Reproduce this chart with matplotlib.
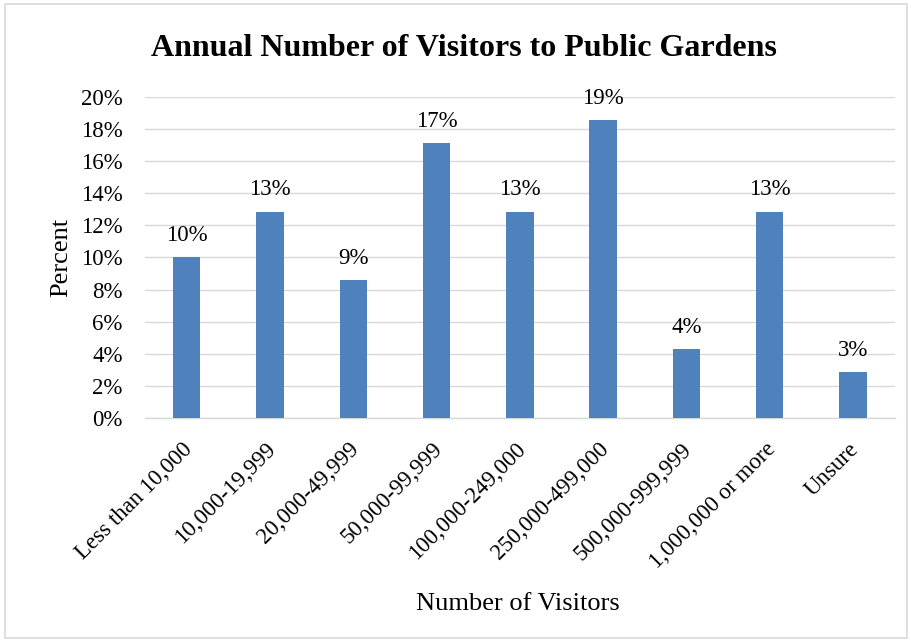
import matplotlib
matplotlib.use("Agg")
import matplotlib.pyplot as plt
from matplotlib.patches import Rectangle
from matplotlib.ticker import FuncFormatter, MultipleLocator
from matplotlib.transforms import ScaledTranslation

categories = ["Less than 10,000", "10,000-19,999", "20,000-49,999", "50,000-99,999",
              "100,000-249,000", "250,000-499,000", "500,000-999,999",
              "1,000,000 or more", "Unsure"]
percent = [10.0, 12.86, 8.57, 17.14, 12.86, 18.57, 4.29, 12.86, 2.86]

plt.rcParams["font.family"] = ["Liberation Serif", "DejaVu Serif"]

fig = plt.figure(figsize=(9.12, 6.42), dpi=100)
ax = fig.add_axes([0.159, 0.349, 0.822, 0.5])

x = range(len(categories))
ax.bar(x, percent, width=0.33, color="#4F81BD", zorder=3)
for xi, v in zip(x, percent):
    ax.text(xi, v + 0.7, f"{v:.0f}%", ha="center", va="bottom", fontsize=16.5)

ax.set_ylim(0, 20)
ax.set_xlim(-0.5, len(categories) - 0.5)
ax.yaxis.set_major_locator(MultipleLocator(2))
ax.yaxis.set_major_formatter(FuncFormatter(lambda v, p: f"{v:.0f}%"))
ax.grid(axis="y", color="#D9D9D9", linewidth=1.0, zorder=0)
for s in ["top", "right", "left"]:
    ax.spines[s].set_visible(False)
ax.spines["bottom"].set_color("#D9D9D9")
ax.spines["bottom"].set_linewidth(1.0)
ax.tick_params(axis="both", length=0, labelsize=16.5)
ax.tick_params(axis="y", pad=16)
ax.set_xticks(list(x))
ax.set_xticklabels(categories, rotation=45, ha="right", rotation_mode="anchor")
ax.tick_params(axis="x", pad=15)
shift = ScaledTranslation(-5 / 100, 0, fig.dpi_scale_trans)
for lbl in ax.get_xticklabels():
    lbl.set_transform(lbl.get_transform() + shift)

ax.set_ylabel("Percent", fontsize=19)
ax.yaxis.set_label_coords(-0.097, 0.5)
ax.set_xlabel("Number of Visitors", fontsize=19)
ax.xaxis.set_label_coords(0.497, -0.545)

fig.text(0.509, 0.925, "Annual Number of Visitors to Public Gardens",
         ha="center", va="center", fontsize=23, fontweight="bold")

fig.patches.append(Rectangle((0.006, 0.006), 0.988, 0.988, transform=fig.transFigure,
                             fill=False, edgecolor="#D9D9D9", linewidth=1.2))

fig.savefig("out.png", dpi=100, facecolor="white")
